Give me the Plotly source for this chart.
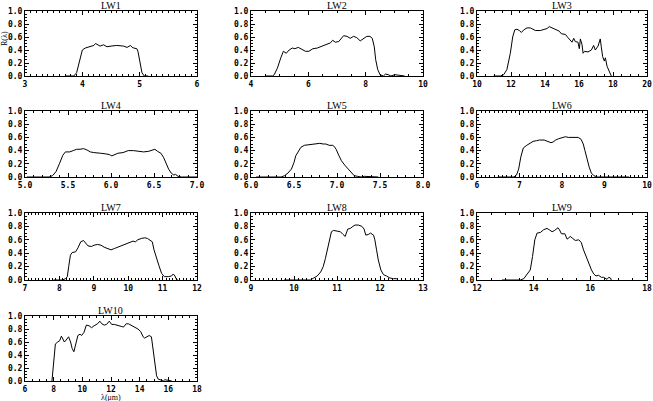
import plotly.graph_objects as go
from plotly.subplots import make_subplots

# filter transmission curves (wavelength in um, R)
lw1_x = [3.7, 3.85, 3.9, 3.95, 4.0, 4.05, 4.1, 4.2, 4.23, 4.31, 4.37, 4.43, 4.5, 4.6, 4.72, 4.78, 4.84, 4.87, 4.9, 4.95, 4.97, 5.0, 5.04, 5.08, 5.15]
lw1_y = [0.0, 0.0, 0.05, 0.25, 0.40, 0.43, 0.44, 0.47, 0.50, 0.46, 0.48, 0.45, 0.46, 0.47, 0.46, 0.44, 0.47, 0.44, 0.43, 0.42, 0.38, 0.25, 0.05, 0.0, 0.0]

lw2_x = [4.52, 4.75, 4.81, 4.92, 5.04, 5.13, 5.23, 5.33, 5.44, 5.53, 5.65, 5.79, 5.9, 6.02, 6.16, 6.31, 6.42, 6.54, 6.65, 6.77, 6.85, 6.94, 7.06, 7.15, 7.23, 7.35, 7.46, 7.58, 7.69, 7.81, 7.92, 8.04, 8.15, 8.23, 8.3, 8.35, 8.42, 8.5, 8.62, 8.69, 8.79, 8.88, 9.02, 9.13, 9.25, 9.36]
lw2_y = [0.0, 0.0, 0.02, 0.12, 0.28, 0.38, 0.35, 0.40, 0.43, 0.42, 0.44, 0.41, 0.38, 0.38, 0.42, 0.43, 0.45, 0.48, 0.50, 0.51, 0.55, 0.52, 0.53, 0.57, 0.62, 0.61, 0.58, 0.61, 0.59, 0.54, 0.58, 0.61, 0.61, 0.58, 0.45, 0.25, 0.10, 0.02, 0.0, 0.03, 0.02, 0.0, 0.02, 0.01, 0.01, 0.0]

lw3_x = [10.98, 11.37, 11.57, 11.76, 11.96, 12.1, 12.22, 12.35, 12.49, 12.61, 12.75, 12.94, 13.14, 13.27, 13.43, 13.73, 13.92, 14.12, 14.25, 14.41, 14.57, 14.71, 14.84, 14.96, 15.2, 15.35, 15.49, 15.59, 15.69, 15.78, 15.94, 16.02, 16.08, 16.18, 16.24, 16.33, 16.53, 16.73, 16.86, 16.96, 17.12, 17.25, 17.31, 17.39, 17.49, 17.55, 17.65, 17.75, 17.84, 17.9]
lw3_y = [0.0, 0.0, 0.02, 0.10, 0.35, 0.60, 0.71, 0.72, 0.70, 0.67, 0.71, 0.74, 0.74, 0.72, 0.70, 0.70, 0.72, 0.73, 0.76, 0.74, 0.72, 0.70, 0.69, 0.65, 0.64, 0.59, 0.55, 0.52, 0.58, 0.53, 0.52, 0.42, 0.57, 0.48, 0.35, 0.38, 0.37, 0.40, 0.47, 0.40, 0.46, 0.57, 0.45, 0.30, 0.23, 0.28, 0.15, 0.08, 0.02, 0.0]

lw4_x = [5.02, 5.28, 5.32, 5.36, 5.4, 5.44, 5.47, 5.52, 5.56, 5.6, 5.64, 5.68, 5.72, 5.76, 5.8, 5.84, 5.88, 5.94, 5.98, 6.01, 6.04, 6.08, 6.14, 6.2, 6.26, 6.32, 6.38, 6.44, 6.48, 6.51, 6.54, 6.58, 6.61, 6.64, 6.67, 6.7, 6.73, 6.75, 6.78, 6.82, 7.0]
lw4_y = [0.0, 0.0, 0.02, 0.08, 0.20, 0.33, 0.38, 0.38, 0.40, 0.42, 0.42, 0.43, 0.41, 0.38, 0.37, 0.37, 0.36, 0.35, 0.34, 0.32, 0.34, 0.36, 0.37, 0.40, 0.40, 0.39, 0.38, 0.39, 0.41, 0.42, 0.39, 0.36, 0.30, 0.20, 0.12, 0.06, 0.03, 0.04, 0.01, 0.0, 0.0]

lw5_x = [6.06, 6.35, 6.39, 6.43, 6.47, 6.5, 6.52, 6.56, 6.58, 6.62, 6.68, 6.74, 6.8, 6.84, 6.87, 6.91, 6.95, 6.97, 6.99, 7.02, 7.05, 7.09, 7.13, 7.17, 7.2, 7.24, 7.28, 7.32, 7.44, 7.48]
lw5_y = [0.0, 0.0, 0.02, 0.06, 0.12, 0.22, 0.32, 0.41, 0.45, 0.48, 0.49, 0.50, 0.51, 0.50, 0.50, 0.48, 0.48, 0.46, 0.42, 0.33, 0.25, 0.18, 0.12, 0.06, 0.02, 0.01, 0.0, 0.01, 0.01, 0.0]

lw6_x = [6.49, 6.87, 6.93, 6.98, 7.03, 7.09, 7.17, 7.25, 7.32, 7.4, 7.47, 7.58, 7.66, 7.74, 7.79, 7.85, 7.92, 8.0, 8.08, 8.15, 8.26, 8.38, 8.45, 8.5, 8.54, 8.58, 8.64, 8.69, 8.75, 8.83, 9.58]
lw6_y = [0.0, 0.0, 0.03, 0.12, 0.30, 0.44, 0.48, 0.51, 0.54, 0.55, 0.56, 0.56, 0.54, 0.52, 0.53, 0.56, 0.58, 0.59, 0.61, 0.60, 0.60, 0.60, 0.57, 0.50, 0.40, 0.28, 0.15, 0.06, 0.02, 0.0, 0.0]

lw7_x = [7.83, 8.08, 8.18, 8.23, 8.27, 8.32, 8.37, 8.47, 8.54, 8.62, 8.7, 8.76, 8.83, 8.93, 9.01, 9.11, 9.21, 9.3, 9.4, 9.5, 9.6, 9.75, 9.89, 10.04, 10.14, 10.21, 10.28, 10.38, 10.48, 10.56, 10.63, 10.7, 10.75, 10.82, 10.89, 10.97, 11.05, 11.17, 11.26, 11.31, 11.36, 11.39, 11.44]
lw7_y = [0.0, 0.0, 0.02, 0.05, 0.20, 0.37, 0.41, 0.42, 0.48, 0.57, 0.59, 0.55, 0.51, 0.50, 0.52, 0.53, 0.52, 0.49, 0.47, 0.45, 0.47, 0.50, 0.53, 0.56, 0.58, 0.57, 0.60, 0.62, 0.63, 0.62, 0.60, 0.57, 0.45, 0.35, 0.22, 0.10, 0.05, 0.05, 0.06, 0.09, 0.06, 0.02, 0.0]

lw8_x = [9.77, 10.38, 10.46, 10.54, 10.62, 10.68, 10.73, 10.78, 10.83, 10.87, 10.92, 11.0, 11.08, 11.14, 11.19, 11.25, 11.31, 11.37, 11.42, 11.5, 11.58, 11.63, 11.67, 11.73, 11.78, 11.85, 11.88, 11.92, 11.96, 12.02, 12.08, 12.15, 12.23, 12.31, 12.38, 12.42]
lw8_y = [0.0, 0.0, 0.03, 0.06, 0.12, 0.20, 0.32, 0.45, 0.58, 0.72, 0.74, 0.73, 0.72, 0.68, 0.65, 0.76, 0.77, 0.80, 0.82, 0.82, 0.80, 0.76, 0.67, 0.68, 0.70, 0.67, 0.60, 0.45, 0.30, 0.15, 0.08, 0.06, 0.03, 0.02, 0.02, 0.0]

lw9_x = [12.88, 13.35, 13.38, 13.53, 13.65, 13.76, 13.88, 13.96, 14.04, 14.12, 14.24, 14.35, 14.47, 14.55, 14.65, 14.74, 14.86, 14.91, 14.98, 15.1, 15.18, 15.24, 15.29, 15.38, 15.47, 15.59, 15.68, 15.76, 15.85, 15.94, 16.04, 16.12, 16.2, 16.29, 16.39, 16.47, 16.53, 16.59, 16.65, 16.71, 16.74]
lw9_y = [0.0, 0.0, 0.01, 0.0, 0.02, 0.08, 0.15, 0.35, 0.60, 0.70, 0.71, 0.75, 0.77, 0.75, 0.72, 0.74, 0.78, 0.75, 0.69, 0.69, 0.61, 0.63, 0.65, 0.62, 0.59, 0.60, 0.56, 0.45, 0.35, 0.23, 0.15, 0.09, 0.06, 0.07, 0.04, 0.04, 0.03, 0.01, 0.04, 0.03, 0.0]

lw10_x = [7.88, 8.0, 8.12, 8.28, 8.42, 8.54, 8.66, 8.75, 8.87, 9.04, 9.18, 9.29, 9.41, 9.53, 9.69, 9.84, 9.95, 10.12, 10.28, 10.47, 10.64, 10.82, 11.06, 11.22, 11.36, 11.53, 11.69, 11.88, 12.05, 12.24, 12.47, 12.71, 12.87, 13.06, 13.22, 13.41, 13.65, 13.88, 14.07, 14.24, 14.35, 14.52, 14.66, 14.82, 14.94, 15.06, 15.18, 15.29, 15.48, 15.65, 15.76, 16.0, 16.24]
lw10_y = [0.0, 0.35, 0.57, 0.60, 0.62, 0.69, 0.65, 0.60, 0.63, 0.68, 0.60, 0.50, 0.45, 0.55, 0.70, 0.72, 0.70, 0.75, 0.86, 0.85, 0.82, 0.85, 0.88, 0.92, 0.88, 0.86, 0.87, 0.92, 0.87, 0.87, 0.85, 0.84, 0.83, 0.88, 0.88, 0.86, 0.83, 0.80, 0.76, 0.68, 0.66, 0.69, 0.70, 0.68, 0.50, 0.25, 0.08, 0.03, 0.01, 0.0, 0.02, 0.01, 0.0]

names = ["LW1", "LW2", "LW3", "LW4", "LW5", "LW6", "LW7", "LW8", "LW9", "LW10"]
curves_x = [lw1_x, lw2_x, lw3_x, lw4_x, lw5_x, lw6_x, lw7_x, lw8_x, lw9_x, lw10_x]
curves_y = [lw1_y, lw2_y, lw3_y, lw4_y, lw5_y, lw6_y, lw7_y, lw8_y, lw9_y, lw10_y]
x_ranges = [(3, 6), (4, 10), (10, 20), (5, 7), (6, 8), (6, 10), (7, 12), (9, 13), (12, 18), (6, 18)]
x_major = [1, 2, 2, 0.5, 0.5, 1, 1, 1, 2, 2]
x_minor = [0.1, 0.5, 0.5, 0.1, 0.1, 0.1, 0.1, 0.1, 0.5, 0.5]
x_fmt = ["d", "d", "d", ".1f", ".1f", "d", "d", "d", "d", "d"]

W, H = 653, 401
col_px = [(25, 197), (251, 423), (477, 647)]
row_px = [(11, 76), (111, 177), (213, 280), (316, 381)]

fig = make_subplots(rows=4, cols=3)

tick_font = dict(family="DejaVu Sans Mono", size=8, color="black", weight="bold")
common = dict(ticks="inside", ticklen=4, tickcolor="black", mirror="ticks",
              showline=True, linecolor="black", linewidth=1, showgrid=False,
              zeroline=False, tickfont=tick_font, automargin=False,
              ticklabeloverflow="allow")

for i in range(10):
    r, c = i // 3, i % 3
    fig.add_trace(go.Scatter(x=curves_x[i], y=curves_y[i], mode="lines",
                             line=dict(color="black", width=1), showlegend=False),
                  row=r + 1, col=c + 1)
    x0, x1 = col_px[c]
    y0, y1 = row_px[r]
    ax = "xaxis" if i == 0 else f"xaxis{i + 1}"
    ay = "yaxis" if i == 0 else f"yaxis{i + 1}"
    fig.update_layout({
        ax: dict(domain=[x0 / W, x1 / W], range=list(x_ranges[i]),
                 tick0=x_ranges[i][0], dtick=x_major[i], tickformat=x_fmt[i],
                 minor=dict(ticks="inside", ticklen=2, dtick=x_minor[i], tickcolor="black"),
                 **common),
        ay: dict(domain=[1 - y1 / H, 1 - y0 / H], range=[0, 1.0],
                 tick0=0, dtick=0.2, tickformat=".1f",
                 minor=dict(ticks="inside", ticklen=2, dtick=0.05, tickcolor="black"),
                 **common),
    })
    fig.add_annotation(text=names[i], xref="paper", yref="paper",
                       x=(x0 + x1) / 2 / W, y=1 - (y0 - 6) / H,
                       xanchor="center", yanchor="middle", showarrow=False,
                       borderpad=0,
                       font=dict(family="Liberation Serif", size=10, color="black"))

# hide the unused grid cells
for i in [11, 12]:
    fig.update_layout({f"xaxis{i}": dict(visible=False), f"yaxis{i}": dict(visible=False)})

fig.add_annotation(text="R(λ)", xref="paper", yref="paper", x=4 / W, y=1 - 39 / H,
                   textangle=-90, showarrow=False, xanchor="center", yanchor="middle",
                   borderpad=0,
                   font=dict(family="Liberation Serif", size=8, color="black"))
fig.add_annotation(text="λ(μm)", xref="paper", yref="paper", x=111 / W, y=1 - 397 / H,
                   showarrow=False, xanchor="center", yanchor="middle", borderpad=0,
                   font=dict(family="Liberation Serif", size=8, color="black"))

fig.update_layout(width=W, height=H, margin=dict(l=0, r=0, t=0, b=0),
                  plot_bgcolor="white", paper_bgcolor="white")

# the page body has a default 8px margin; drop it so the figure fills the window
fig.write_html("out.html", config={"displayModeBar": False},
               post_script="document.body.style.margin='0px';")
